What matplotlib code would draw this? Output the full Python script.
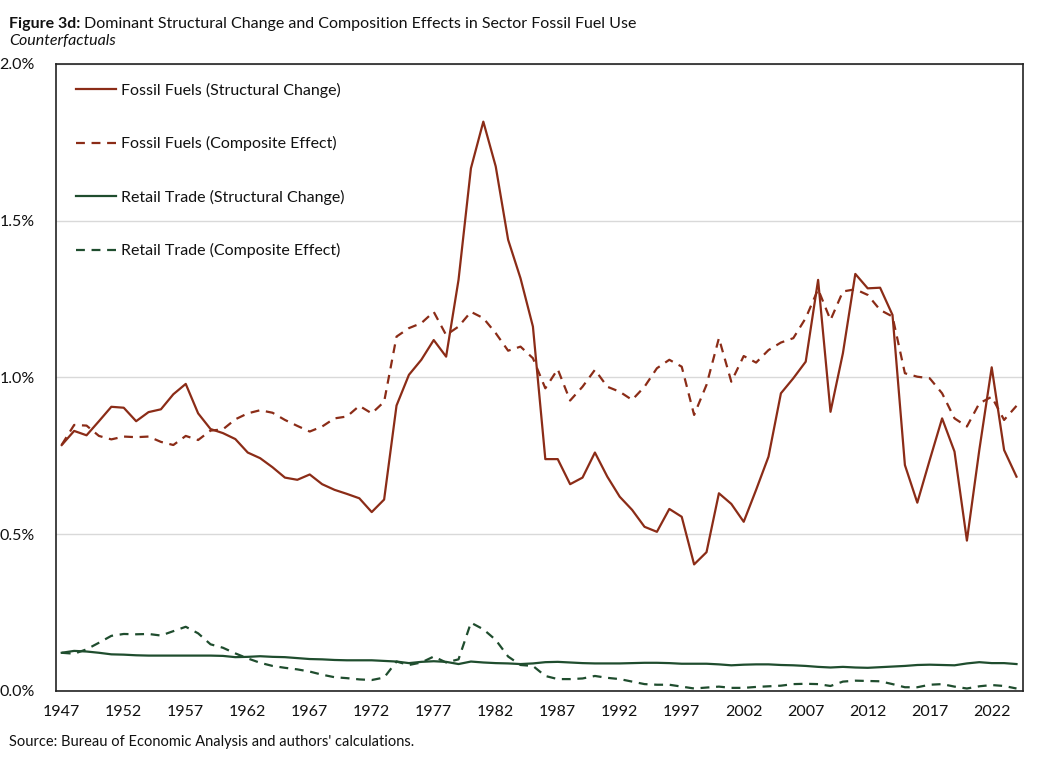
import numpy as np
import matplotlib
matplotlib.use('Agg')
import matplotlib.pyplot as plt
import matplotlib.ticker as ticker

#DATA (percent)
years = list(range(1947, 2025))

ff_structural = [0.784, 0.829, 0.815, 0.860, 0.906, 0.903, 0.860, 0.889, 0.898, 0.946,
                 0.979, 0.885, 0.835, 0.822, 0.803, 0.760, 0.742, 0.713, 0.680, 0.673,
                 0.690, 0.659, 0.641, 0.628, 0.614, 0.570, 0.610, 0.910, 1.008, 1.056,
                 1.119, 1.066, 1.311, 1.667, 1.816, 1.673, 1.439, 1.316, 1.162, 0.739,
                 0.739, 0.659, 0.680, 0.760, 0.683, 0.619, 0.577, 0.523, 0.507, 0.580,
                 0.555, 0.403, 0.442, 0.630, 0.596, 0.539, 0.641, 0.747, 0.949, 0.997,
                 1.050, 1.311, 0.890, 1.077, 1.330, 1.284, 1.286, 1.199, 0.720, 0.600,
                 0.736, 0.869, 0.763, 0.479, 0.768, 1.032, 0.768, 0.683]

ff_composite = [0.785, 0.848, 0.846, 0.813, 0.802, 0.811, 0.809, 0.811, 0.794, 0.784,
                0.813, 0.800, 0.830, 0.834, 0.866, 0.885, 0.895, 0.887, 0.864, 0.845,
                0.827, 0.843, 0.869, 0.875, 0.909, 0.885, 0.922, 1.130, 1.157, 1.173,
                1.209, 1.135, 1.162, 1.209, 1.189, 1.141, 1.085, 1.098, 1.061, 0.965,
                1.026, 0.926, 0.970, 1.024, 0.970, 0.954, 0.928, 0.970, 1.029, 1.056,
                1.034, 0.880, 0.976, 1.125, 0.986, 1.068, 1.047, 1.087, 1.111, 1.125,
                1.189, 1.281, 1.183, 1.274, 1.281, 1.263, 1.215, 1.194, 1.013, 1.002,
                0.997, 0.949, 0.869, 0.843, 0.917, 0.938, 0.864, 0.909]

rt_structural = [0.121, 0.127, 0.125, 0.121, 0.116, 0.115, 0.113, 0.112, 0.112, 0.112,
                 0.112, 0.112, 0.112, 0.111, 0.107, 0.108, 0.110, 0.108, 0.107, 0.104,
                 0.101, 0.100, 0.098, 0.097, 0.097, 0.097, 0.095, 0.093, 0.088, 0.092,
                 0.094, 0.092, 0.085, 0.093, 0.090, 0.088, 0.087, 0.085, 0.087, 0.091,
                 0.092, 0.090, 0.088, 0.087, 0.087, 0.087, 0.088, 0.089, 0.089, 0.088,
                 0.086, 0.086, 0.086, 0.084, 0.081, 0.083, 0.084, 0.084, 0.082, 0.081,
                 0.079, 0.076, 0.074, 0.076, 0.074, 0.073, 0.075, 0.077, 0.079, 0.082,
                 0.083, 0.082, 0.081, 0.087, 0.091, 0.088, 0.088, 0.085]

rt_composite = [0.121, 0.118, 0.132, 0.153, 0.175, 0.181, 0.180, 0.181, 0.176, 0.190,
                0.204, 0.183, 0.148, 0.137, 0.119, 0.103, 0.089, 0.079, 0.073, 0.068,
                0.061, 0.051, 0.043, 0.040, 0.036, 0.034, 0.042, 0.093, 0.082, 0.090,
                0.109, 0.090, 0.100, 0.217, 0.196, 0.162, 0.109, 0.082, 0.079, 0.047,
                0.037, 0.037, 0.039, 0.047, 0.041, 0.037, 0.029, 0.021, 0.019, 0.019,
                0.013, 0.007, 0.010, 0.013, 0.009, 0.009, 0.012, 0.014, 0.016, 0.021,
                0.022, 0.021, 0.015, 0.029, 0.032, 0.031, 0.030, 0.021, 0.011, 0.011,
                0.019, 0.021, 0.013, 0.007, 0.014, 0.018, 0.015, 0.007]

labels = ['Fossil Fuels (Structural Change)', 'Fossil Fuels (Composite Effect)',
          'Retail Trade (Structural Change)', 'Retail Trade (Composite Effect)']

#STYLE
plt.rcParams['font.family'] = ['Lato', 'DejaVu Sans']
red = '#8b2c17'
green = '#1f4d2e'
txt = '#111111'

fig = plt.figure(figsize=(10.44, 7.58), dpi=100)
ax = fig.add_axes([0.0532, 0.0888, 0.9264, 0.8268])

ax.plot(years, ff_structural, color=red, lw=1.6, label=labels[0])
ax.plot(years, ff_composite, color=red, lw=1.6, dashes=(4, 3), label=labels[1])
ax.plot(years, rt_structural, color=green, lw=1.6, label=labels[2])
ax.plot(years, rt_composite, color=green, lw=1.6, dashes=(4, 3), label=labels[3])

ax.set_xlim(1946.5, 2024.5)
ax.set_ylim(0, 2.0)
ax.xaxis.set_major_locator(ticker.FixedLocator(range(1947, 2025, 5)))
ax.yaxis.set_major_locator(ticker.MultipleLocator(0.5))
ax.yaxis.set_major_formatter(ticker.FuncFormatter(lambda v, p: f'{v:.1f}%'))
ax.tick_params(length=0, labelsize=11.5, colors=txt)
ax.tick_params(axis='y', pad=15)
ax.tick_params(axis='x', pad=10)
ax.grid(axis='y', color='#d9d9d9', lw=1)
ax.set_axisbelow(True)
for s in ax.spines.values():
    s.set_color('#222222')
    s.set_linewidth(1.2)

#LEGEND
ax.legend(loc='upper left', frameon=False, fontsize=11.5, handlelength=2.5,
          labelspacing=2.4, handletextpad=0.3, borderaxespad=0.0,
          bbox_to_anchor=(0.015, 0.98), labelcolor=txt)

#TITLES
t = fig.text(0.009, 0.978, 'Figure 3d:', fontsize=11.5, fontweight='bold', va='top', color=txt)
fig.canvas.draw()
bb = t.get_window_extent()
fig.text(bb.x1 / fig.bbox.width + 0.003, 0.978,
         'Dominant Structural Change and Composition Effects in Sector Fossil Fuel Use',
         fontsize=11.5, va='top', color=txt)
fig.text(0.009, 0.955, 'Counterfactuals', fontsize=11.5, style='italic', va='top', color=txt)
fig.text(0.009, 0.012, "Source: Bureau of Economic Analysis and authors' calculations.",
         fontsize=10.5, va='bottom', color=txt)

fig.savefig('out.png', dpi=100)
